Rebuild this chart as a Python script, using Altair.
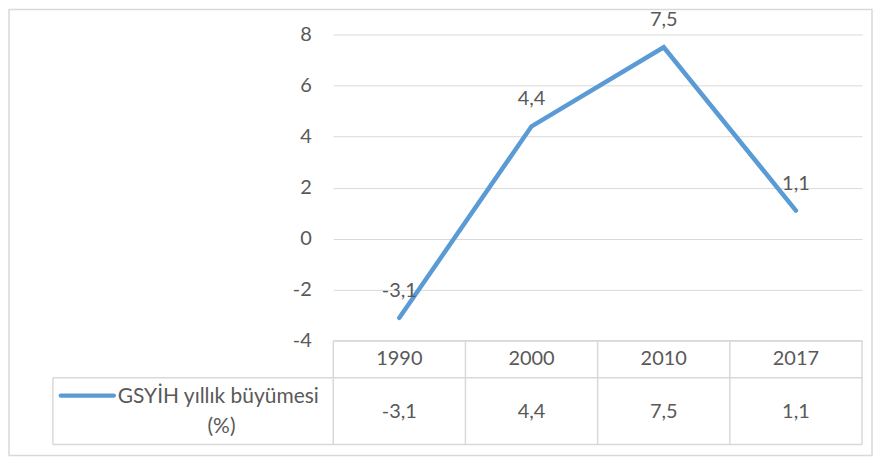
import altair as alt
import pandas as pd

years = ["1990", "2000", "2010", "2017"]
growth = [-3.1, 4.4, 7.5, 1.1]
series_name = "GSYİH yıllık büyümesi"
series_unit = "(%)"
y_ticks = [-4, -2, 0, 2, 4, 6, 8]

df = pd.DataFrame({
    "year": years,
    "value": growth,
    "label": [f"{v}".replace(".", ",") for v in growth],
})

FONT = "Lato"
TXT = "#595959"
GRID = "#D9D9D9"
BLUE = "#5B9BD5"
W, H = 530, 307
ROW1 = 344   # bottom of header row (px from plot top)
ROW2 = 411   # bottom of data row
TLEFT = -281 # left edge of table label column

x_enc = alt.X("year:N", sort=years, axis=None,
              scale=alt.Scale(type="point", padding=0.5))

base = alt.Chart(df)

line = base.mark_line(color=BLUE, strokeWidth=4.5, strokeCap="round",
                      strokeJoin="miter").encode(
    x=x_enc,
    y=alt.Y("value:Q", scale=alt.Scale(domain=[-4, 8], nice=False, zero=False),
            axis=alt.Axis(values=y_ticks, grid=True, gridColor=GRID, gridWidth=1,
                          domain=False, ticks=False, labelPadding=22,
                          labelColor=TXT, labelFont=FONT, labelFontSize=20,
                          labelExpr="datum.value < 0 ? '-' + abs(datum.value) : '' + datum.value",
                          title=None)),
)

labels = base.mark_text(font=FONT, fontSize=20, color=TXT, dy=-27,
                        baseline="middle", align="center").encode(
    x=x_enc, y="value:Q", text="label:N")

header = base.mark_text(font=FONT, fontSize=20, color=TXT,
                        baseline="middle", align="center").encode(
    x=x_enc, y=alt.value(325), text="year:N")

cells = base.mark_text(font=FONT, fontSize=20, color=TXT,
                       baseline="middle", align="center").encode(
    x=x_enc, y=alt.value(378), text="label:N")

# table structure
step = W / len(years)
vlines = alt.layer(*[
    alt.Chart(df.head(1)).mark_rule(color=GRID, strokeWidth=1.5).encode(
        x=alt.value(i * step), y=alt.value(H), y2=alt.value(ROW2))
    for i in range(len(years) + 1)
])
left_v = alt.Chart(df.head(1)).mark_rule(color=GRID, strokeWidth=1.5).encode(
    x=alt.value(TLEFT), y=alt.value(ROW1), y2=alt.value(ROW2))
hlines = alt.layer(*[
    alt.Chart(df.head(1)).mark_rule(color=GRID, strokeWidth=1.5).encode(
        x=alt.value(TLEFT), x2=alt.value(W), y=alt.value(yy))
    for yy in (ROW1, ROW2)
])
top_h = alt.Chart(df.head(1)).mark_rule(color=GRID, strokeWidth=1.5).encode(
    x=alt.value(0), x2=alt.value(W), y=alt.value(H))

# legend key inside table
legend_line = alt.Chart(df.head(1)).mark_rule(color=BLUE, strokeWidth=4.5,
                                              strokeCap="round").encode(
    x=alt.value(-273), x2=alt.value(-220), y=alt.value(362))
legend_t1 = alt.Chart(pd.DataFrame({"t": [series_name]})).mark_text(
    font=FONT, fontSize=21, color=TXT, align="left", baseline="middle").encode(
    x=alt.value(-216), y=alt.value(363), text="t:N")
legend_t2 = alt.Chart(pd.DataFrame({"t": [series_unit]})).mark_text(
    font=FONT, fontSize=21, color=TXT, align="center", baseline="middle").encode(
    x=alt.value(-112), y=alt.value(393), text="t:N")

border = alt.Chart(df.head(1)).mark_rect(fill=None, stroke=GRID, strokeWidth=1.5).encode(
    x=alt.value(-325), x2=alt.value(540), y=alt.value(-25), y2=alt.value(422))

chart = alt.layer(
    border, line, labels, vlines, left_v, hlines, top_h, header, cells,
    legend_line, legend_t1, legend_t2,
).properties(
    width=W, height=H,
    padding={"left": 326, "top": 26, "right": 11, "bottom": 117},
    autosize=alt.AutoSizeParams(type="none"),
    background="white",
).configure_view(stroke=None)

chart.save("out.html", embed_options={"renderer": "svg", "actions": False})
